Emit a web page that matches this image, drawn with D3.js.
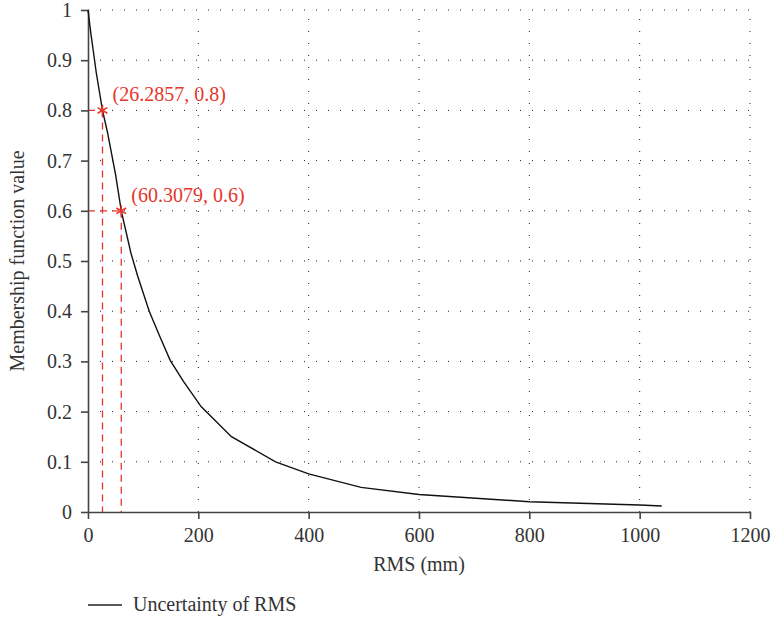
<!DOCTYPE html>
<html lang="en">
<head>
    <meta charset="UTF-8">
    <title>Membership function</title>
    <script src="https://d3js.org/d3.v7.min.js"></script>
    <style>
        body { margin: 0; background: #fff; }
        text { font-family: "Liberation Serif", "Times New Roman", serif; }
    </style>
</head>
<body>
    <div id="chart"></div>

    <script>
        // curve: RMS (mm) vs membership value
        const rmsValues = [0, 5, 15, 26.2857, 35, 50, 60.3079, 78, 90, 111, 130, 149, 173, 205, 260, 340, 400, 495, 600, 800, 1000, 1040];
        const membership = [1, 0.955, 0.875, 0.8, 0.758, 0.672, 0.6, 0.515, 0.47, 0.40, 0.35, 0.302, 0.26, 0.21, 0.15, 0.10, 0.076, 0.049, 0.035, 0.0205, 0.014, 0.012];

        // marked points
        const markX = [26.2857, 60.3079];
        const markY = [0.8, 0.6];
        const markLabels = ["(26.2857, 0.8)", "(60.3079, 0.6)"];

        const xTicks = [0, 200, 400, 600, 800, 1000, 1200];
        const yTicks = [0, 0.1, 0.2, 0.3, 0.4, 0.5, 0.6, 0.7, 0.8, 0.9, 1];

        const width = 771, height = 622;
        const plot = {left: 88, right: 750, top: 10, bottom: 512};
        const red = "#e6352b";
        const fontSize = "20px";

        const svg = d3.select("#chart").append("svg")
            .attr("width", width)
            .attr("height", height);

        const xScale = d3.scaleLinear().domain([0, 1200]).range([plot.left, plot.right]);
        const yScale = d3.scaleLinear().domain([0, 1]).range([plot.bottom, plot.top]);

        // dotted grid
        const grid = svg.append("g");
        xTicks.filter(d => d > 0).forEach(d => {
            grid.append("line")
                .attr("x1", xScale(d)).attr("x2", xScale(d))
                .attr("y1", yScale(0)).attr("y2", yScale(1))
                .attr("stroke", "#222").attr("stroke-width", 1)
                .attr("stroke-dasharray", "1,11");
        });
        yTicks.filter(d => d > 0).forEach(d => {
            grid.append("line")
                .attr("x1", xScale(0)).attr("x2", xScale(1200))
                .attr("y1", yScale(d)).attr("y2", yScale(d))
                .attr("stroke", "#222").attr("stroke-width", 1)
                .attr("stroke-dasharray", "1,11");
        });

        // dashed guides to the marked points
        markX.forEach((mx, i) => {
            svg.append("line")
                .attr("x1", xScale(mx)).attr("x2", xScale(mx))
                .attr("y1", yScale(markY[i])).attr("y2", yScale(0))
                .attr("stroke", red).attr("stroke-width", 1.3)
                .attr("stroke-dasharray", "7,5");
            svg.append("line")
                .attr("x1", xScale(0)).attr("x2", xScale(mx))
                .attr("y1", yScale(markY[i])).attr("y2", yScale(markY[i]))
                .attr("stroke", red).attr("stroke-width", 1.3)
                .attr("stroke-dasharray", "7,5");
        });

        // axes
        const xAxis = svg.append("g")
            .attr("transform", `translate(0,${plot.bottom})`)
            .call(d3.axisBottom(xScale).tickValues(xTicks).tickFormat(d3.format("d")).tickSize(7).tickSizeOuter(0).tickPadding(9));
        const yAxis = svg.append("g")
            .attr("transform", `translate(${plot.left},0)`)
            .call(d3.axisLeft(yScale).tickValues(yTicks).tickFormat(d => d === 0 || d === 1 ? d3.format("d")(d) : d3.format(".1f")(d)).tickSize(7).tickSizeOuter(0).tickPadding(9));

        [xAxis, yAxis].forEach(ax => {
            ax.select(".domain").attr("stroke", "#444").attr("stroke-width", 1.6);
            ax.selectAll(".tick line").attr("stroke", "#444").attr("stroke-width", 1.6);
            ax.selectAll(".tick text").attr("fill", "#333").style("font-size", fontSize)
                .style("font-family", "'Liberation Serif', serif");
        });

        // curve
        const lineData = rmsValues.map((v, i) => [v, membership[i]]);
        svg.append("path")
            .datum(lineData)
            .attr("fill", "none")
            .attr("stroke", "#111")
            .attr("stroke-width", 1.4)
            .attr("d", d3.line().x(d => xScale(d[0])).y(d => yScale(d[1])));

        // markers and labels
        markX.forEach((mx, i) => {
            svg.append("path")
                .attr("d", d3.symbol().type(d3.symbolAsterisk).size(90))
                .attr("transform", `translate(${xScale(mx)},${yScale(markY[i])})`)
                .attr("fill", "none").attr("stroke", red).attr("stroke-width", 1.6);
            svg.append("text")
                .attr("x", xScale(mx) + 10)
                .attr("y", yScale(markY[i]) - 9)
                .attr("fill", red)
                .style("font-size", fontSize)
                .text(markLabels[i]);
        });

        // axis titles
        svg.append("text")
            .attr("x", (plot.left + plot.right) / 2)
            .attr("y", 571)
            .attr("text-anchor", "middle")
            .attr("fill", "#333")
            .style("font-size", fontSize)
            .text("RMS (mm)");

        svg.append("text")
            .attr("transform", `translate(24,${(plot.top + plot.bottom) / 2}) rotate(-90)`)
            .attr("text-anchor", "middle")
            .attr("fill", "#333")
            .style("font-size", fontSize)
            .text("Membership function value");

        // legend
        svg.append("line")
            .attr("x1", 88).attr("x2", 122)
            .attr("y1", 605).attr("y2", 605)
            .attr("stroke", "#222").attr("stroke-width", 1.3);
        svg.append("text")
            .attr("x", 133).attr("y", 611)
            .attr("fill", "#333")
            .style("font-size", fontSize)
            .text("Uncertainty of RMS");
    </script>
</body>
</html>
